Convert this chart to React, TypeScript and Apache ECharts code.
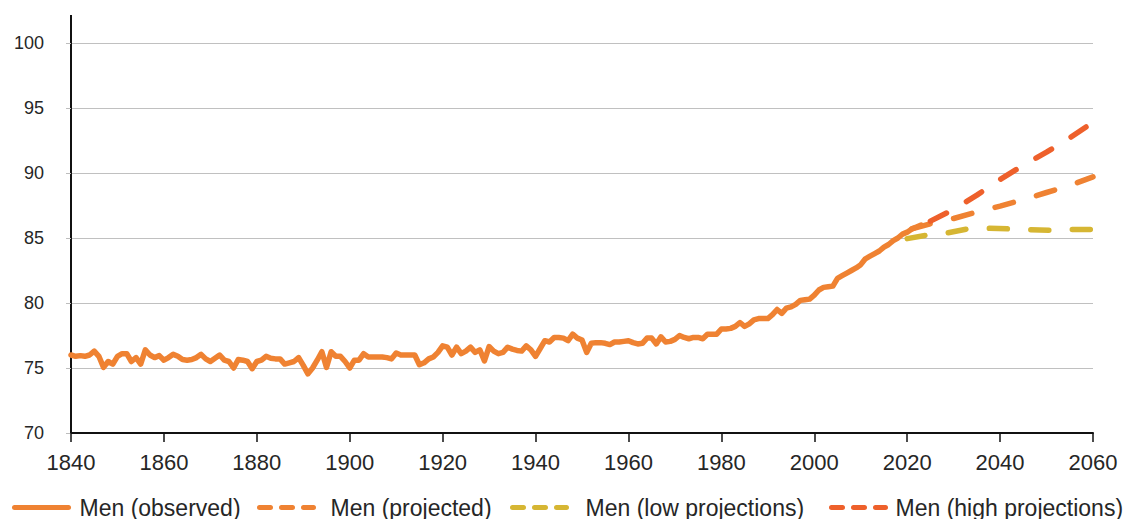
import React, { useEffect, useRef } from "react";
import * as echarts from "echarts";

const FONT = "'Liberation Sans', Arial, Helvetica, sans-serif";

const observedYears = [
  1840, 1841, 1842, 1843, 1844, 1845, 1846, 1847, 1848, 1849,
  1850, 1851, 1852, 1853, 1854, 1855, 1856, 1857, 1858, 1859,
  1860, 1861, 1862, 1863, 1864, 1865, 1866, 1867, 1868, 1869,
  1870, 1871, 1872, 1873, 1874, 1875, 1876, 1877, 1878, 1879,
  1880, 1881, 1882, 1883, 1884, 1885, 1886, 1887, 1888, 1889,
  1890, 1891, 1892, 1893, 1894, 1895, 1896, 1897, 1898, 1899,
  1900, 1901, 1902, 1903, 1904, 1905, 1906, 1907, 1908, 1909,
  1910, 1911, 1912, 1913, 1914, 1915, 1916, 1917, 1918, 1919,
  1920, 1921, 1922, 1923, 1924, 1925, 1926, 1927, 1928, 1929,
  1930, 1931, 1932, 1933, 1934, 1935, 1936, 1937, 1938, 1939,
  1940, 1941, 1942, 1943, 1944, 1945, 1946, 1947, 1948, 1949,
  1950, 1951, 1952, 1953, 1954, 1955, 1956, 1957, 1958, 1959,
  1960, 1961, 1962, 1963, 1964, 1965, 1966, 1967, 1968, 1969,
  1970, 1971, 1972, 1973, 1974, 1975, 1976, 1977, 1978, 1979,
  1980, 1981, 1982, 1983, 1984, 1985, 1986, 1987, 1988, 1989,
  1990, 1991, 1992, 1993, 1994, 1995, 1996, 1997, 1998, 1999,
  2000, 2001, 2002, 2003, 2004, 2005, 2006, 2007, 2008, 2009,
  2010, 2011, 2012, 2013, 2014, 2015, 2016, 2017, 2018, 2019,
  2020, 2021, 2022, 2023,
];

const observedValues = [
  76.0, 75.9, 75.95, 75.9, 76.0, 76.3, 75.9, 75.05, 75.5, 75.3,
  75.9, 76.1, 76.1, 75.5, 75.8, 75.3, 76.4, 76.0, 75.8, 75.95,
  75.6, 75.8, 76.05, 75.9, 75.65, 75.6, 75.65, 75.8, 76.05, 75.7,
  75.5, 75.75, 76.0, 75.6, 75.5, 75.0, 75.65, 75.6, 75.5, 74.95,
  75.5, 75.6, 75.9, 75.75, 75.7, 75.7, 75.3, 75.4, 75.5, 75.8,
  75.2, 74.55, 75.0, 75.6, 76.25, 75.05, 76.25, 75.9, 75.9, 75.5,
  75.0, 75.6, 75.6, 76.1, 75.85, 75.85, 75.85, 75.85, 75.8, 75.7,
  76.15, 76.0, 76.0, 76.0, 76.0, 75.25, 75.4, 75.7, 75.85, 76.2,
  76.7, 76.6, 76.0, 76.6, 76.1, 76.3, 76.6, 76.2, 76.4, 75.55,
  76.65, 76.3, 76.1, 76.2, 76.6, 76.45, 76.35, 76.3, 76.7, 76.4,
  75.9, 76.5, 77.1, 77.0, 77.35, 77.35, 77.3, 77.1, 77.6, 77.3,
  77.15, 76.2, 76.9, 76.95, 76.95, 76.9, 76.8, 77.0, 77.0, 77.05,
  77.1, 76.95, 76.85, 76.9, 77.3, 77.3, 76.85, 77.4, 77.0, 77.05,
  77.2, 77.5, 77.35, 77.25, 77.35, 77.35, 77.25, 77.6, 77.6, 77.6,
  78.0, 78.0, 78.05, 78.2, 78.5, 78.2, 78.4, 78.7, 78.8, 78.8,
  78.8, 79.1, 79.5, 79.2, 79.6, 79.7, 79.9, 80.2, 80.25, 80.3,
  80.6, 81.0, 81.2, 81.25, 81.3, 81.9, 82.1, 82.3, 82.5, 82.7,
  82.95, 83.4, 83.6, 83.8, 84.0, 84.3, 84.5, 84.8, 85.0, 85.3,
  85.45, 85.7, 85.85, 86.0,
];

const projectedYears = [2021, 2025, 2030, 2035, 2040, 2045, 2050, 2055, 2060];
const projectedValues = [85.7, 86.1, 86.5, 87.0, 87.45, 87.95, 88.5, 89.05, 89.7];

const lowYears = [2020, 2024, 2028, 2033, 2037, 2042, 2046, 2051, 2055, 2060];
const lowValues = [84.95, 85.2, 85.35, 85.7, 85.75, 85.7, 85.65, 85.6, 85.65, 85.65];

const highYears = [2025, 2030, 2035, 2040, 2045, 2050, 2055, 2060];
const highValues = [86.3, 87.2, 88.3, 89.5, 90.6, 91.6, 92.7, 93.9];

const xTicks = [1840, 1860, 1880, 1900, 1920, 1940, 1960, 1980, 2000, 2020, 2040, 2060];
const yTicks = [70, 75, 80, 85, 90, 95, 100];

const seriesNames = [
  "Men (observed)",
  "Men (projected)",
  "Men (low projections)",
  "Men (high projections)",
];
const seriesColors = ["#EF8232", "#EF8232", "#D6B633", "#EE602B"];
const seriesDashes: any[] = ["solid", [19, 24], [18, 23.5], [18, 23]];

const pairs = (xs: number[], ys: number[]) => xs.map((x, i) => [x, ys[i]]);

export default function App() {
  const ref = useRef<HTMLDivElement>(null);

  useEffect(() => {
    if (!ref.current) return;
    const chart = echarts.init(ref.current, undefined, { renderer: "svg" });

    const gridLeft = 71;
    const gridTop = 43;

    const lineBase = (i: number) => ({
      name: seriesNames[i],
      type: "line",
      symbol: "none",
      showSymbol: false,
      smooth: false,
      z: 2 + i,
      lineStyle: {
        color: seriesColors[i],
        width: 5.5,
        type: seriesDashes[i],
        cap: "round",
        join: "round",
      },
      itemStyle: { color: seriesColors[i] },
    });

    const legendLefts = [12, 257, 510, 829];
    const legendPads = [6, 12, 14, 5];

    const legends = seriesNames.map((n, i) => ({
      show: true,
      left: legendLefts[i],
      top: 496,
      padding: 0,
      orient: "horizontal",
      itemWidth: 54,
      itemHeight: 14,
      selectedMode: false,
      data: [
        {
          name: n,
          itemStyle: { opacity: 0, color: "rgba(0,0,0,0)", borderWidth: 0 },
          lineStyle: {
            color: seriesColors[i],
            width: 5,
            type: i === 0 ? "solid" : [11, 11],
            cap: "round",
          },
        },
      ],
      textStyle: {
        fontFamily: FONT,
        fontSize: 23,
        color: "#262626",
        padding: [0, 0, 0, legendPads[i]],
      },
    }));

    chart.setOption({
      animation: false,
      backgroundColor: "#ffffff",
      grid: {
        left: gridLeft,
        right: 35,
        top: gridTop,
        bottom: 86,
        containLabel: false,
      },
      legend: legends,
      xAxis: {
        type: "value",
        min: xTicks[0],
        max: xTicks[xTicks.length - 1],
        interval: 20,
        axisLine: { show: true, onZero: false, lineStyle: { color: "#111", width: 2 } },
        axisTick: { show: true, length: 9, lineStyle: { color: "#111", width: 1.5 } },
        axisLabel: {
          fontFamily: FONT,
          fontSize: 22,
          color: "#262626",
          margin: 18,
          formatter: (v: number) => (xTicks.includes(v) ? String(v) : ""),
        },
        splitLine: { show: false },
      },
      yAxis: {
        type: "value",
        min: yTicks[0],
        max: yTicks[yTicks.length - 1],
        interval: 5,
        axisLine: { show: true, lineStyle: { color: "#111", width: 2 } },
        axisTick: { show: true, length: 5, lineStyle: { color: "#bdbdbd", width: 1 } },
        axisLabel: {
          fontFamily: FONT,
          fontSize: 18,
          color: "#262626",
          margin: 27,
          formatter: (v: number) => (yTicks.includes(v) ? String(v) : ""),
        },
        splitLine: {
          show: true,
          showMinLine: false,
          lineStyle: { color: "#c0c0c0", width: 1 },
        },
      },
      graphic: [
        {
          type: "line",
          shape: { x1: gridLeft, y1: 15, x2: gridLeft, y2: gridTop },
          style: { stroke: "#111", lineWidth: 2 },
          z: 10,
        },
      ],
      series: [
        { ...lineBase(0), data: pairs(observedYears, observedValues) },
        { ...lineBase(1), data: pairs(projectedYears, projectedValues) },
        { ...lineBase(2), data: pairs(lowYears, lowValues) },
        { ...lineBase(3), data: pairs(highYears, highValues) },
      ],
    });

    return () => chart.dispose();
  }, []);

  return (
    <div
      ref={ref}
      style={{ position: "fixed", left: 0, top: 0, width: 1128, height: 519, background: "#fff" }}
    />
  );
}
